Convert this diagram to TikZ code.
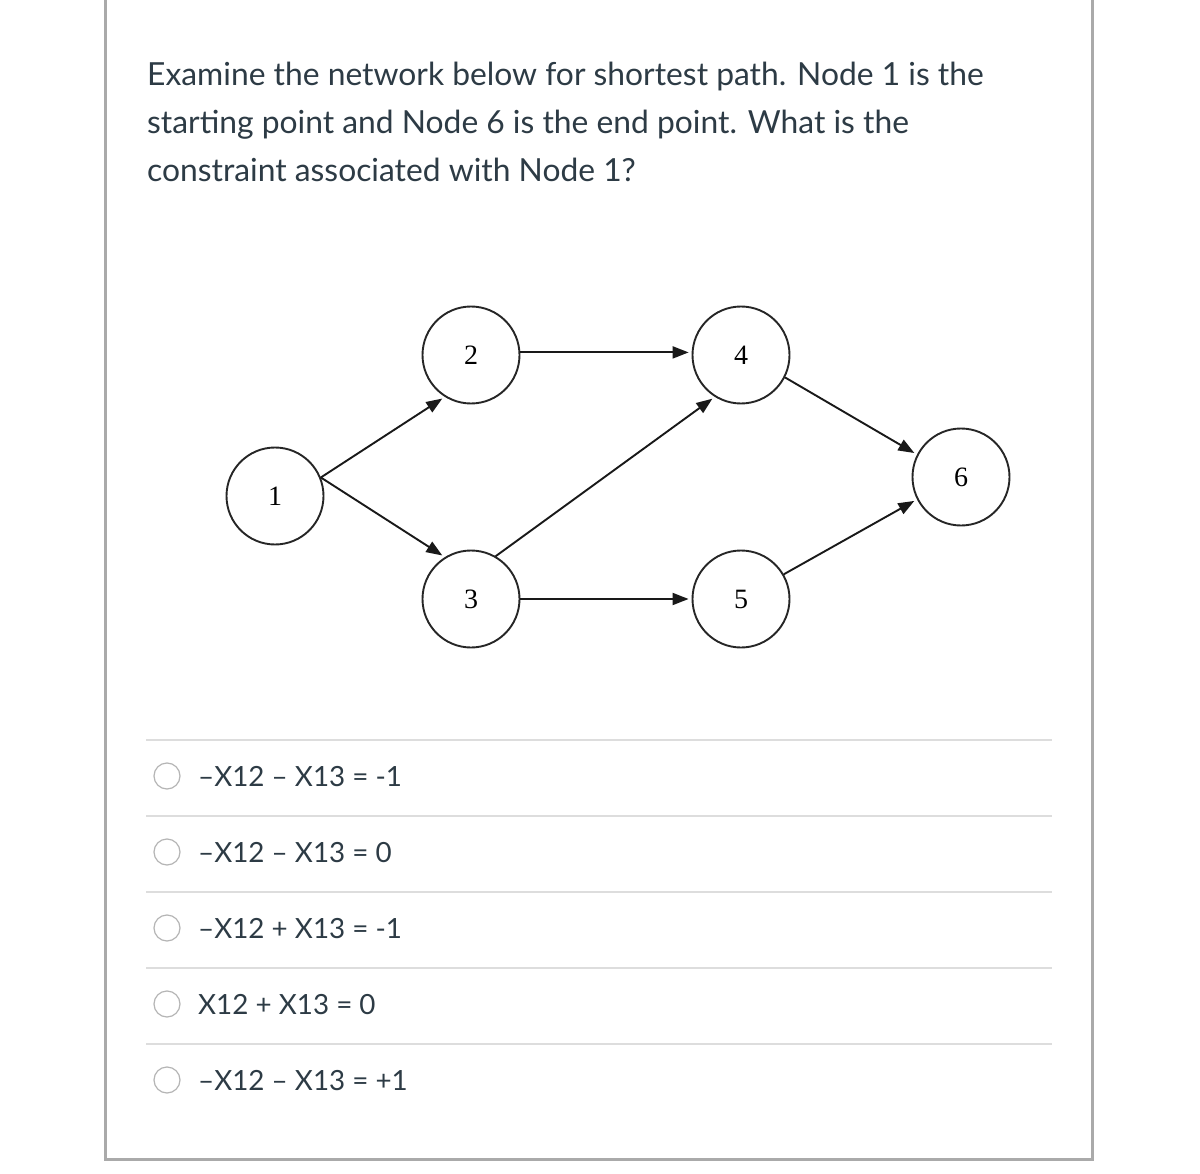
\documentclass[tikz,border=0pt]{standalone}
\usepackage{fontspec}
\setmainfont{Lato}
\newfontfamily\netfont{Liberation Serif}
\usetikzlibrary{arrows.meta}
\definecolor{qtext}{HTML}{2D3B45}
\definecolor{framegray}{HTML}{AAAAAA}
\definecolor{rulegray}{HTML}{DDDDDD}
\definecolor{radiogray}{HTML}{B5B5B5}
\tikzset{
  vertex/.style={circle, draw=black!85, line width=1.9pt, minimum size=97pt, inner sep=0pt,
    font=\netfont\fontsize{28}{28}\selectfont},
  arc/.style={->, line width=1.9pt, black!90, shorten >=3pt},
  qline/.style={anchor=base west, inner sep=0pt, text=qtext, font=\fontsize{31.8}{38}\selectfont},
  choice/.style={anchor=base west, inner sep=0pt, text=qtext, font=\fontsize{27.8}{33}\selectfont},
  radio/.style={circle, draw=radiogray, line width=1.2pt, minimum size=26pt, inner sep=0pt}
}
\begin{document}
\begin{tikzpicture}[x=1pt, y=-1pt, >={Triangle[length=16pt,width=12pt]}]
    \useasboundingbox (0,0) rectangle (1200,1174);
    \fill[white] (0,0) rectangle (1200,1174);
    \draw[framegray, line width=3pt] (105,-5)--(105,1159.5)--(1092.5,1159.5)--(1092.5,-5);
    % question
    \node[qline] (q1) at (147,86) {Examine the network below for shortest path. Node 1 is the};
    \node[qline] (q2) at (147,134) {starting point and Node 6 is the end point. What is the};
    \node[qline] (q3) at (147,182) {constraint associated with Node 1?};
    % network
    \node[vertex] (n1) at (275,496) {1};
    \node[vertex] (n2) at (471,355) {2};
    \node[vertex] (n3) at (471,599) {3};
    \node[vertex] (n4) at (741,355) {4};
    \node[vertex] (n5) at (741,599) {5};
    \node[vertex] (n6) at (961,477) {6};
    \draw[arc] (n1.22)--(n2.238);
    \draw[arc] (n1.22)--(n3.122);
    \draw[arc] (n2.3)--(n4.177);
    \draw[arc] (n3.60)--(n4.238);
    \draw[arc] (n3.0)--(n5.180);
    \draw[arc] (n4.-27)--(n6.153);
    \draw[arc] (n5.30)--(n6.207);
    % answers
    \foreach \k in {0,...,4}{
        \draw[rulegray, line width=2pt] (146,740+76*\k)--(1052,740+76*\k);
        \node[radio] (r\k) at (167,776+76*\k) {};
    }
    \node[choice] (a1) at (198,786) {–X12 – X13 = -1};
    \node[choice] (a2) at (198,862) {–X12 – X13 = 0};
    \node[choice] (a3) at (198,938) {–X12 + X13 = -1};
    \node[choice] (a4) at (198,1014) {X12 + X13 = 0};
    \node[choice] (a5) at (198,1090) {–X12 – X13 = +1};
\end{tikzpicture}
\end{document}
